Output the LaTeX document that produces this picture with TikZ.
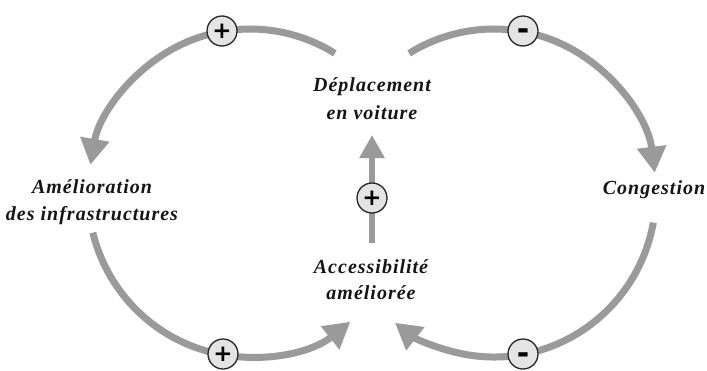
\documentclass[tikz,border=0pt]{standalone}
\usepackage{fontspec}
\setmainfont[LetterSpace=5]{Liberation Serif}
\newfontfamily\signfont{DejaVu Sans}
\usetikzlibrary{arrows.meta}
\definecolor{arrowgray}{HTML}{9A9A9A}
\definecolor{signfill}{HTML}{E4E4E4}
\definecolor{ink}{HTML}{151515}
\begin{document}
\begin{tikzpicture}[x=1pt,y=-1pt,
  lbl/.style={align=center, text=ink, inner sep=0pt, anchor=base},
  cyclearrow/.style={draw=arrowgray, line width=7pt, -{Triangle[length=26pt,width=28pt]}},
  signnode/.style={circle, draw=black!85, line width=1.3pt, fill=signfill, minimum size=30pt, inner sep=0pt, text=black, font=\signfont\bfseries\fontsize{23}{23}\selectfont},
  minusnode/.style={signnode, font=\signfont\bfseries\fontsize{30}{30}\selectfont}]
\useasboundingbox (0,0) rectangle (707,370);

% labels (base anchor = baseline of the last line)
\node[lbl, font=\fontsize{20}{28}\selectfont\bfseries\itshape] (dep) at (372,119) {Déplacement\\en voiture};
\node[lbl, font=\fontsize{20}{27}\selectfont\bfseries\itshape] (ame) at (92,220) {Amélioration\\des infrastructures};
\node[lbl, font=\fontsize{20}{24}\selectfont\bfseries\itshape] (cong) at (654,194) {Congestion};
\node[lbl, font=\fontsize{20}{26}\selectfont\bfseries\itshape] (acc) at (371,299) {Accessibilité\\améliorée};

% left loop arcs
\begin{scope}[shift={(250,193)}]
  \coordinate (tlA) at (-58.4:162 and 164);
  \coordinate (blA) at (166:162 and 164);
  \draw[cyclearrow] (tlA) arc[start angle=-58.4, end angle=-170.1, x radius=162, y radius=164];
  \draw[cyclearrow] (blA) arc[start angle=166, end angle=51.7, x radius=162, y radius=164];
\end{scope}
% right loop arcs
\begin{scope}[shift={(494,193)}]
  \coordinate (trA) at (-121.6:162 and 164);
  \coordinate (brA) at (10.4:162 and 164);
  \draw[cyclearrow] (trA) arc[start angle=-121.6, end angle=-7.1, x radius=162, y radius=164];
  \draw[cyclearrow] (brA) arc[start angle=10.4, end angle=127.7, x radius=162, y radius=164];
\end{scope}

% centre arrow
\coordinate (cA) at (372,243);
\coordinate (cB) at (372,135);
\draw[draw=arrowgray, line width=6pt, -{Triangle[length=23pt,width=24pt]}] (cA) -- (cB);

% polarity signs
\node[signnode] (s1) at (222,31) {+};
\node[minusnode] (s2) at (523,31) {\smash{\raisebox{-0.27em}{-}}};
\node[signnode] (s3) at (223,354) {+};
\node[minusnode] (s4) at (523,354) {\smash{\raisebox{-0.3em}{-}}};
\node[signnode] (s5) at (372,198) {+};
\end{tikzpicture}
\end{document}
